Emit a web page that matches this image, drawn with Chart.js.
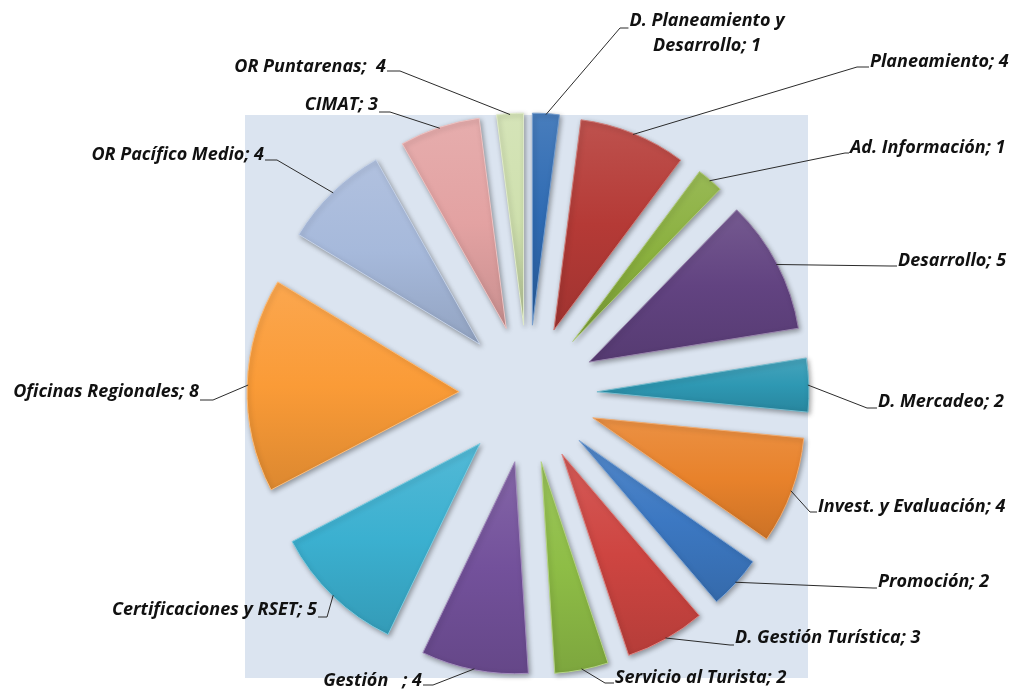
<!DOCTYPE html>
<html><head><meta charset="utf-8">
<script src="https://cdn.jsdelivr.net/npm/chart.js@4.4.1/dist/chart.umd.min.js"></script>
<style>html,body{margin:0;padding:0;background:#fff;overflow:hidden}canvas{display:block}</style>
</head><body>
<canvas id="c" width="1014" height="691"></canvas>
<script>
// ---- data ----
const categories = ['D. Planeamiento y Desarrollo','Planeamiento','Ad. Información','Desarrollo','D. Mercadeo','Invest. y Evaluación','Promoción','D. Gestión Turística','Servicio al Turista','Gestión','Certificaciones y RSET','Oficinas Regionales','OR Pacífico Medio','CIMAT','OR Puntarenas'];
const values = [1,4,1,5,2,4,2,3,2,4,5,8,4,3,1];
const labelTexts = ['D. Planeamiento y\nDesarrollo; 1','Planeamiento; 4','Ad. Información; 1','Desarrollo; 5','D. Mercadeo; 2','Invest. y Evaluación; 4','Promoción; 2','D. Gestión Turística; 3','Servicio al Turista; 2','Gestión   ; 4','Certificaciones y RSET; 5','Oficinas Regionales; 8','OR Pacífico Medio; 4','CIMAT; 3','OR Puntarenas;  4'];

// ---- styles / layout ----
const sliceColors = ['#2F6BB3','#B53A36','#8AB03E','#624381','#2E98B3','#E8822B','#3C78C2','#CE4541','#8EBD46','#73519B','#3BB0D0','#FA9B37','#A6B9DB','#E3A2A2','#CFE0AE'];
// [textX, textMidY, align, stubY, elbowX]
const labelLayout = [
 [707, 21, 'center', 28, 620],
 [870, 62, 'left', 67, 857],
 [850, 148, 'left', 153, 845],
 [898, 261, 'left', 266, 890],
 [878, 402, 'left', 408, 867],
 [818, 507, 'left', 512, 810],
 [878, 582, 'left', 588, 873],
 [735, 638, 'left', 645, 730],
 [615, 678, 'left', 683, 605],
 [422, 681, 'right', 685, 433],
 [317, 610, 'right', 617, 327],
 [199, 392, 'right', 400, 213],
 [264, 155, 'right', 160, 277],
 [378, 105, 'right', 112, 390],
 [386, 67, 'right', 71, 400]
];
const EXPLODE = 69;
const PIE_RADIUS = 212;
const PLOT_RECT = [245, 115, 563, 563];
const PLOT_BG = '#DBE4F0';
const LABEL_FONT = 'italic bold 18px "Open Sans"';

function mix(hex, amt) {
  const n = parseInt(hex.slice(1), 16);
  let r = (n >> 16) & 255, g = (n >> 8) & 255, b = n & 255;
  const t = amt > 0 ? 255 : 0, a = Math.abs(amt);
  r = Math.round(r + (t - r) * a); g = Math.round(g + (t - g) * a); b = Math.round(b + (t - b) * a);
  return 'rgb(' + r + ',' + g + ',' + b + ')';
}

function sliceFill(c) {
  const base = sliceColors[c.dataIndex];
  const el = c.element;
  if (!el || !isFinite(el.outerRadius) || !el.outerRadius || !isFinite(el.x)) return base;
  const {x, y, outerRadius: r, startAngle: s, endAngle: e} = el;
  const ys = [y, y + r * Math.sin(s), y + r * Math.sin(e)];
  const inRange = a => (s <= a && a <= e);
  if (inRange(Math.PI / 2)) ys.push(y + r);
  if (inRange(-Math.PI / 2) || inRange(3 * Math.PI / 2)) ys.push(y - r);
  const y0 = Math.min(...ys), y1 = Math.max(...ys);
  const g = c.chart.ctx.createLinearGradient(0, y0, 0, y1 + 0.01);
  g.addColorStop(0, mix(base, 0.12));
  g.addColorStop(0.5, base);
  g.addColorStop(1, mix(base, -0.12));
  return g;
}

const bgPlugin = {
  id: 'bg',
  beforeDraw(chart) {
    const ctx = chart.ctx;
    ctx.save();
    ctx.fillStyle = '#fff';
    ctx.fillRect(0, 0, chart.width, chart.height);
    ctx.fillStyle = PLOT_BG;
    ctx.fillRect(...PLOT_RECT);
    ctx.restore();
  }
};

const explodePlugin = {
  id: 'explode',
  beforeDatasetsDraw(chart) {
    const ctx = chart.ctx;
    const meta = chart.getDatasetMeta(0);
    meta.data.forEach(arc => {
      const mid = (arc.startAngle + arc.endAngle) / 2;
      ctx.save();
      ctx.translate(Math.cos(mid) * EXPLODE, Math.sin(mid) * EXPLODE);
      ctx.shadowColor = 'rgba(0,0,0,0.35)';
      ctx.shadowBlur = 5;
      ctx.shadowOffsetX = 1.5;
      ctx.shadowOffsetY = 2;
      arc.draw(ctx, chart.chartArea);
      ctx.restore();
    });
    return false;
  }
};

const labelPlugin = {
  id: 'labels',
  afterDraw(chart) {
    const ctx = chart.ctx;
    const meta = chart.getDatasetMeta(0);
    ctx.save();
    ctx.font = LABEL_FONT;
    ctx.textBaseline = 'middle';
    meta.data.forEach((arc, i) => {
      const [tx, ty, align, stubY, elbowX] = labelLayout[i];
      const lines = labelTexts[i].split('\n');
      const mid = (arc.startAngle + arc.endAngle) / 2;
      const cx = arc.x + Math.cos(mid) * EXPLODE;
      const cy = arc.y + Math.sin(mid) * EXPLODE;
      const px = cx + Math.cos(mid) * (arc.outerRadius - 1);
      const py = cy + Math.sin(mid) * (arc.outerRadius - 1);
      const w0 = ctx.measureText(lines[0]).width;
      let endX;
      if (align === 'left') endX = tx - 1;
      else if (align === 'right') endX = tx + 1;
      else endX = tx - w0 / 2 - 1;
      ctx.strokeStyle = '#2b2b2b';
      ctx.lineWidth = 1;
      ctx.beginPath();
      ctx.moveTo(px, py);
      ctx.lineTo(elbowX, stubY);
      ctx.lineTo(endX, stubY);
      ctx.stroke();
      ctx.fillStyle = '#111';
      ctx.textAlign = align;
      lines.forEach((ln, k) => ctx.fillText(ln, tx, ty + k * 25));
    });
    ctx.restore();
  }
};

const chart = new Chart(document.getElementById('c'), {
  type: 'pie',
  data: {
    labels: categories,
    datasets: [{
      data: values,
      backgroundColor: sliceFill,
      borderColor: c => mix(sliceColors[c.dataIndex], 0.35),
      borderWidth: 1,
      radius: PIE_RADIUS
    }]
  },
  options: {
    responsive: false,
    animation: false,
    events: [],
    layout: {padding: {left: 246, right: 204, top: 112, bottom: 15}},
    plugins: {legend: {display: false}, tooltip: {enabled: false}}
  },
  plugins: [bgPlugin, explodePlugin, labelPlugin]
});
chart.update();
</script>
</body></html>
